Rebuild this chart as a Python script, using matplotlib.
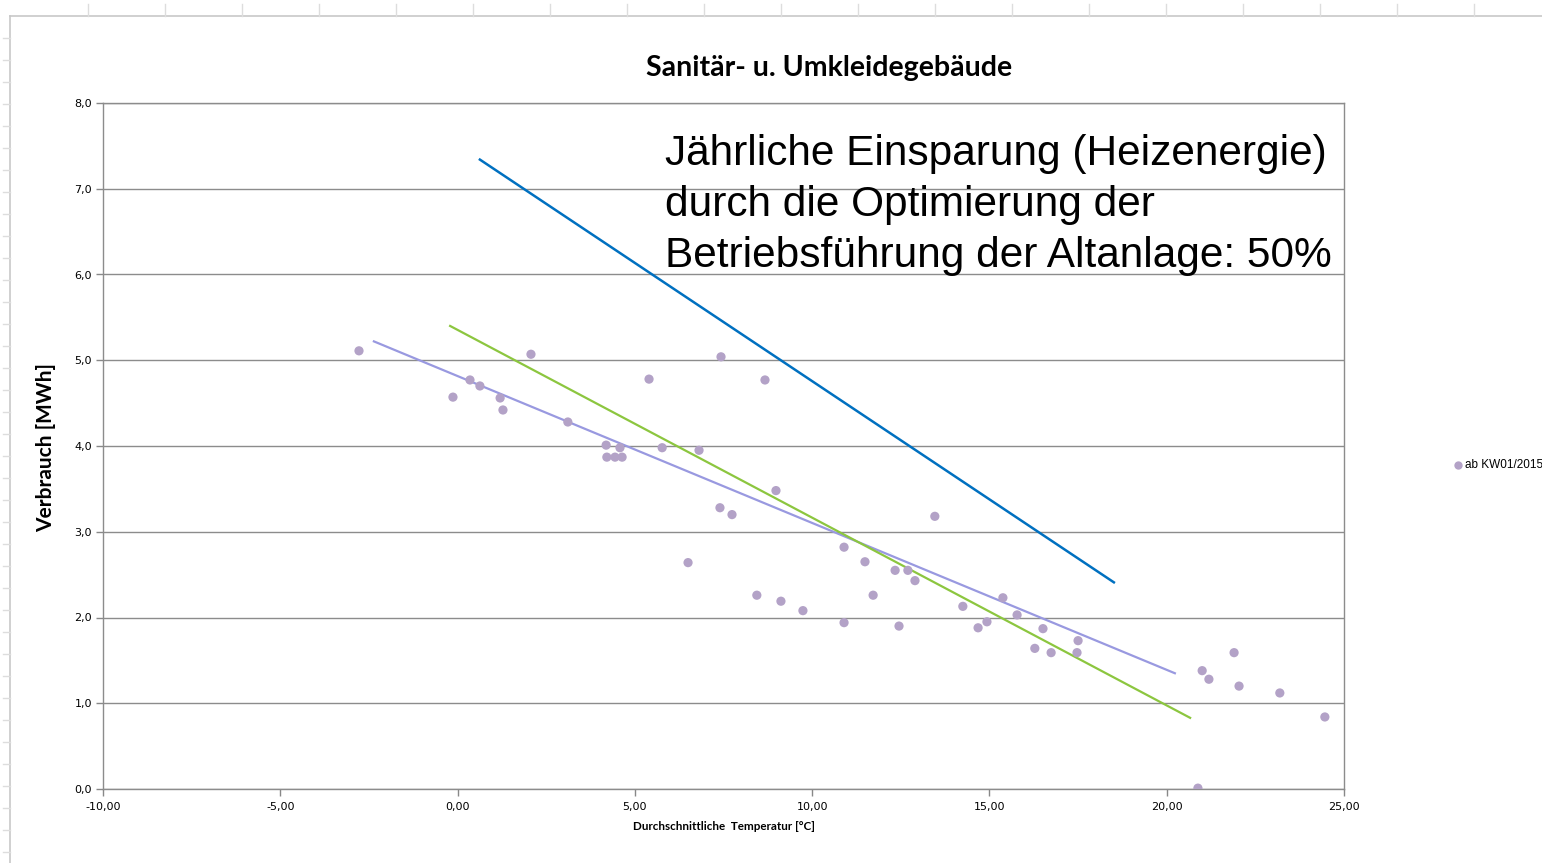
import matplotlib
matplotlib.use("Agg")
import matplotlib.pyplot as plt
from matplotlib.lines import Line2D

# ---- data ----
temp = [-2.78, -0.13, 0.35, 0.63, 1.20, 1.28, 2.07, 3.11, 4.19, 4.21, 4.44, 4.58, 4.64,
        5.40, 5.77, 6.81, 6.50, 7.43, 7.40, 7.74, 8.67, 8.44, 8.98, 9.12, 9.74, 10.90,
        10.90, 11.49, 11.72, 12.34, 12.70, 12.90, 12.45, 13.46, 14.25, 14.68, 14.93,
        15.38, 15.78, 16.28, 16.51, 16.74, 17.50, 17.47, 20.88, 21.00, 21.19, 21.90,
        22.04, 23.19, 24.46]
consumption = [5.11, 4.57, 4.77, 4.70, 4.56, 4.42, 5.07, 4.28, 4.01, 3.87, 3.87, 3.98, 3.87,
               4.78, 3.98, 3.95, 2.64, 5.04, 3.28, 3.20, 4.77, 2.26, 3.48, 2.19, 2.08, 2.82,
               1.94, 2.65, 2.26, 2.55, 2.55, 2.43, 1.90, 3.18, 2.13, 1.88, 1.95,
               2.23, 2.03, 1.64, 1.87, 1.59, 1.73, 1.59, 0.01, 1.38, 1.28, 1.59,
               1.20, 1.12, 0.84]
series_label = "ab KW01/2015"

trend_x = [-2.36, 20.23]
trend_y = [5.22, 1.35]
green_x = [-0.21, 20.66]
green_y = [5.40, 0.83]
blue_x = [0.63, 18.51]
blue_y = [7.34, 2.41]

xticks = [-10, -5, 0, 5, 10, 15, 20, 25]
yticks = [0, 1, 2, 3, 4, 5, 6, 7, 8]

title = "Sanitär- u. Umkleidegebäude"
xlabel = "Durchschnittliche  Temperatur [°C]"
ylabel = "Verbrauch [MWh]"
note = "Jährliche Einsparung (Heizenergie)\ndurch die Optimierung der\nBetriebsführung der Altanlage: 50%"

# ---- figure ----
W, H = 1542, 863
fig = plt.figure(figsize=(W / 100, H / 100), dpi=100)
fig.patch.set_facecolor("white")

# spreadsheet frame lines
fig.add_artist(Line2D([10 / W, 1], [1 - 16 / H, 1 - 16 / H], color="#c8c8c8", lw=1.2))
fig.add_artist(Line2D([10 / W, 10 / W], [0, 1 - 16 / H], color="#c8c8c8", lw=1.2))
for px in range(88, W, 77):
    fig.add_artist(Line2D([px / W, px / W], [1 - 4 / H, 1 - 16 / H], color="#dddddd", lw=1))
for py in range(38, H, 22):
    fig.add_artist(Line2D([3 / W, 10 / W], [1 - py / H, 1 - py / H], color="#dddddd", lw=1))

ax = fig.add_axes([103 / W, 74 / H, 1241 / W, 686 / H])
ax.set_xlim(-10, 25)
ax.set_ylim(0, 8)

ax.set_yticks(yticks)
ax.set_xticks(xticks)
ax.set_yticklabels([f"{v:.1f}".replace(".", ",") for v in yticks])
ax.set_xticklabels([f"{v:.2f}".replace(".", ",") for v in xticks])
ax.tick_params(axis="both", labelsize=8, colors="#888888", labelcolor="black",
               length=5, width=1, direction="out")
ax.tick_params(axis="x", pad=4)
ax.tick_params(axis="y", pad=3)
for s in ax.spines.values():
    s.set_color("#8c8c8c")
    s.set_linewidth(1)
ax.yaxis.grid(True, color="#8c8c8c", lw=1)
ax.set_axisbelow(True)

ax.scatter(temp, consumption, s=44, color="#b3a2c7", edgecolors="none", zorder=3,
           label=series_label)
ax.plot(trend_x, trend_y, color="#9999e0", lw=1.6, zorder=2)
ax.plot(green_x, green_y, color="#8cc63f", lw=1.6, zorder=2)
ax.plot(blue_x, blue_y, color="#0070c0", lw=1.8, zorder=2)

fig.text(829 / W, 1 - 68 / H, title, ha="center", va="center", fontsize=20.5,
         fontweight="bold", family="Lato")
fig.text(724 / W, 1 - 826 / H, xlabel, ha="center", va="center", fontsize=8.4,
         fontweight="bold", family="Lato")
fig.text(46 / W, 1 - 447 / H, ylabel, rotation=90, ha="center", va="center",
         fontsize=15, fontweight="bold", family="Lato")

fig.text(665 / W, 1 - 205 / H, note, ha="left", va="center", fontsize=30.5,
         family="Liberation Sans", linespacing=1.37)

# legend entry
fig.add_artist(Line2D([1458 / W], [1 - 465 / H], marker="o", markersize=6,
                      color="#b3a2c7", markeredgecolor="none", linestyle="none"))
fig.text(1465 / W, 1 - 465 / H, series_label, ha="left", va="center", fontsize=8.5,
         family="Liberation Sans")

fig.savefig("out.png", dpi=100)
